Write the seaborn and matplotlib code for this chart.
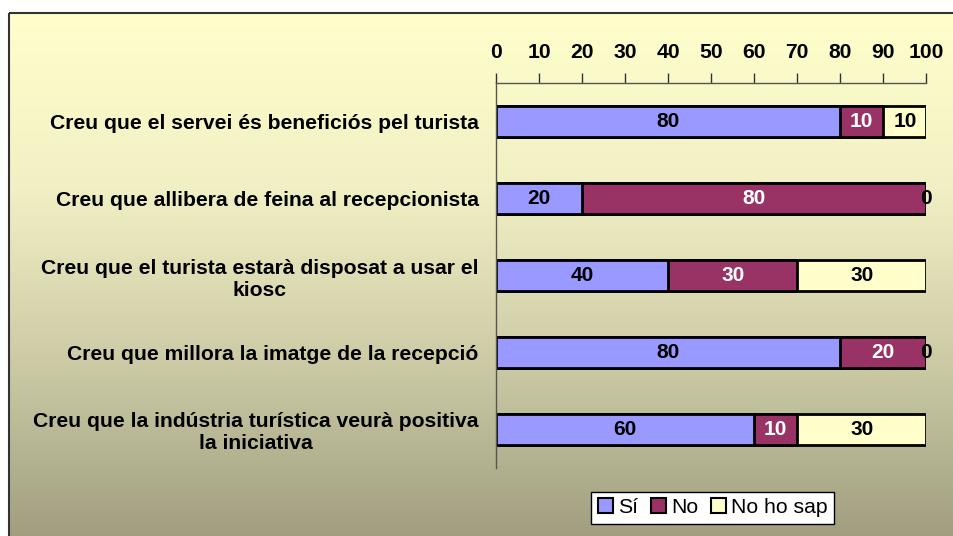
import matplotlib
matplotlib.use("Agg")
import matplotlib.pyplot as plt
import numpy as np
import pandas as pd
import seaborn as sns
from matplotlib.colors import LinearSegmentedColormap
from matplotlib.patches import Rectangle

# data
questions = [
    "Creu que el servei és beneficiós pel turista",
    "Creu que allibera de feina al recepcionista",
    "Creu que el turista estarà disposat a usar el\nkiosc",
    "Creu que millora la imatge de la recepció",
    "Creu que la indústria turística veurà positiva\nla iniciativa",
]
si = [80, 20, 40, 80, 60]
no = [10, 80, 30, 20, 10]
no_sap = [10, 0, 30, 0, 30]
series_names = ["Sí", "No", "No ho sap"]
series_colors = ["#9999FF", "#993366", "#FFFFCC"]
label_colors = ["black", "white", "black"]
x_ticks = [0, 10, 20, 30, 40, 50, 60, 70, 80, 90, 100]

sns.set_theme(style="white")
plt.rcParams["font.family"] = ["Liberation Sans", "DejaVu Sans"]
plt.rcParams["text.color"] = "black"
plt.rcParams["xtick.color"] = "black"
plt.rcParams["ytick.color"] = "black"

df = pd.DataFrame({"question": questions, "Sí": si, "No": no, "No ho sap": no_sap})
df["cum1"] = df["Sí"]
df["cum2"] = df["Sí"] + df["No"]
df["cum3"] = df["cum2"] + df["No ho sap"]

fig = plt.figure(figsize=(9.54, 5.36), dpi=100)
fig.patch.set_facecolor("white")

# gradient panel behind the chart
bg = fig.add_axes([0, 0, 1, 1], zorder=-1)
bg.set_xlim(0, 954)
bg.set_ylim(536, 0)
bg.axis("off")
grad = np.linspace(0, 1, 256).reshape(-1, 1)
cmap = LinearSegmentedColormap.from_list("bg", ["#FFFFCC", "#F1F0C4", "#CBCAA5", "#A09E7F"])
bg.imshow(grad, cmap=cmap, aspect="auto", extent=(9, 960, 540, 13))
bg.add_patch(Rectangle((9, 13), 960, 540, fill=False, edgecolor="#333333", lw=1.5))

ax = fig.add_axes([0.52, 0.127, 0.451, 0.718])
ax.patch.set_alpha(0)

# stacked bars: draw cumulative totals from the back to the front
for col, color in zip(["cum3", "cum2", "cum1"], series_colors[::-1]):
    sns.barplot(data=df, x=col, y="question", orient="h", color=color,
                edgecolor="black", linewidth=2, width=0.4, saturation=1, ax=ax)

# value labels in the middle of each segment
starts = [np.zeros(len(si)), df["cum1"].values, df["cum2"].values]
for vals, left, lc in zip([si, no, no_sap], starts, label_colors):
    for i, v in enumerate(vals):
        ax.text(left[i] + v / 2, i, str(v), ha="center", va="center",
                fontsize=15, fontweight="bold", color=lc if v > 0 else "black")

ax.set_xlim(0, 100)
ax.set_ylim(4.5, -0.5)
ax.set_xticks(x_ticks)
ax.xaxis.tick_top()
ax.tick_params(axis="x", top=True, bottom=False, direction="out", length=7,
               width=1, color="#333333", labelsize=15.2, pad=8)
for lab in ax.get_xticklabels():
    lab.set_fontweight("bold")
ax.tick_params(axis="y", left=False, labelsize=15.2, pad=6.5)
for lab in ax.get_yticklabels():
    lab.set_fontweight("bold")
    lab.set_multialignment("center")
ax.set_xlabel("")
ax.set_ylabel("")
for side in ["right", "bottom"]:
    ax.spines[side].set_visible(False)
for side in ["top", "left"]:
    ax.spines[side].set_color("#555555")
    ax.spines[side].set_linewidth(1)

handles = [Rectangle((0, 0), 1, 1, facecolor=c, edgecolor="black", lw=1.5) for c in series_colors]
fig.legend(handles, series_names, loc="center", bbox_to_anchor=(0.747, 0.0527), ncol=3,
           frameon=True, fancybox=False, edgecolor="black", framealpha=1,
           fontsize=15.3, handlelength=0.7, handleheight=0.7, handletextpad=0.25,
           columnspacing=0.6, borderpad=0.3, borderaxespad=0)

fig.savefig("out.png", dpi=100)
